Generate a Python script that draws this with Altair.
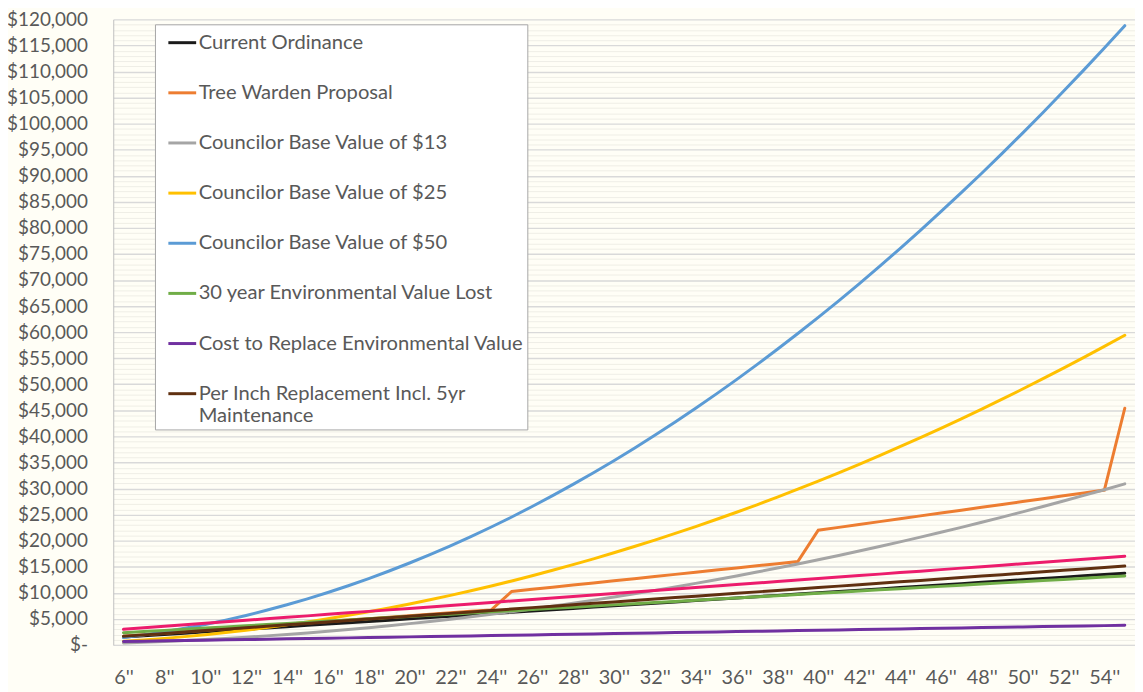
import altair as alt
import pandas as pd

diameters = [f"{d}''" for d in range(6, 56)]
even_labels = [f"{d}''" for d in range(6, 56, 2)]

series_names = [
    "Current Ordinance",
    "Tree Warden Proposal",
    "Councilor Base Value of $13",
    "Councilor Base Value of $25",
    "Councilor Base Value of $50",
    "30 year Environmental Value Lost",
    "Cost to Replace Environmental Value",
    "Per Inch Replacement Incl. 5yr Maintenance",
]
series_colors = ["#1a1a1a", "#ED7D31", "#A5A5A5", "#FFC000", "#5B9BD5",
                 "#70AD47", "#7030A0", "#603010"]
extra_color = "#EC1C6C"

current = [1500, 1750, 2000, 2250, 2500, 2750, 3000, 3250, 3500, 3750,
           4000, 4250, 4500, 4750, 5000, 5250, 5500, 5750, 6000, 6250,
           6500, 6750, 7000, 7250, 7500, 7750, 8000, 8250, 8500, 8750,
           9000, 9250, 9500, 9750, 10000, 10250, 10500, 10750, 11000, 11250,
           11500, 11750, 12000, 12250, 12500, 12750, 13000, 13250, 13500, 13750]
warden = [1680, 1960, 2240, 2520, 2800, 3080, 3360, 3640, 3920, 4200,
          4480, 4760, 5040, 5320, 5600, 5880, 6160, 6440, 6720,
          10250, 10660, 11070, 11480, 11890, 12300, 12710, 13120, 13530, 13940,
          14350, 14760, 15170, 15580, 15990,
          22000, 22550, 23100, 23650, 24200, 24750, 25300, 25850, 26400, 26950,
          27500, 28050, 28600, 29150, 29700,
          45400]
base13 = [370, 500, 650, 830, 1020, 1240, 1470, 1730, 2000, 2300,
          2610, 2950, 3310, 3690, 4080, 4500, 4940, 5400, 5880, 6380,
          6900, 7440, 8010, 8590, 9190, 9810, 10460, 11120, 11800, 12510,
          13230, 13980, 14740, 15530, 16340, 17160, 18010, 18880, 19770, 20680,
          21600, 22550, 23520, 24510, 25530, 26560, 27610, 28680, 29770, 30890]
base25 = [705, 960, 1255, 1590, 1965, 2375, 2825, 3320, 3850, 4420,
          5025, 5675, 6360, 7090, 7855, 8660, 9505, 10385, 11310, 12270,
          13275, 14315, 15395, 16515, 17670, 18870, 20105, 21385, 22700, 24055,
          25445, 26880, 28355, 29865, 31415, 33005, 34635, 36305, 38015, 39760,
          41550, 43375, 45240, 47145, 49085, 51070, 53095, 55155, 57255, 59395]
base50 = [1410, 1920, 2510, 3180, 3930, 4750, 5650, 6640, 7700, 8840,
          10050, 11350, 12720, 14180, 15710, 17320, 19010, 20770, 22620, 24540,
          26550, 28630, 30790, 33030, 35340, 37740, 40210, 42770, 45400, 48110,
          50890, 53760, 56710, 59730, 62830, 66010, 69270, 72610, 76030, 79520,
          83100, 86750, 90480, 94290, 98170, 102140, 106190, 110310, 114510, 118790]
env_lost = [2350, 2570, 2790, 3020, 3240, 3460, 3680, 3900, 4130, 4350,
            4570, 4790, 5010, 5240, 5460, 5680, 5900, 6120, 6350, 6570,
            6790, 7010, 7230, 7460, 7680, 7900, 8120, 8340, 8570, 8790,
            9010, 9230, 9450, 9680, 9900, 10120, 10340, 10560, 10790, 11010,
            11230, 11450, 11670, 11900, 12120, 12340, 12560, 12780, 13010, 13230]
env_replace = [650, 710, 780, 840, 900, 970, 1030, 1090, 1160, 1220,
               1290, 1350, 1410, 1480, 1540, 1600, 1670, 1730, 1790, 1860,
               1920, 1980, 2050, 2110, 2170, 2240, 2300, 2360, 2430, 2490,
               2560, 2620, 2680, 2750, 2810, 2870, 2940, 3000, 3060, 3130,
               3190, 3250, 3320, 3380, 3440, 3510, 3570, 3630, 3700, 3760]
per_inch = [1650, 1925, 2200, 2475, 2750, 3025, 3300, 3575, 3850, 4125,
            4400, 4675, 4950, 5225, 5500, 5775, 6050, 6325, 6600, 6875,
            7150, 7425, 7700, 7975, 8250, 8525, 8800, 9075, 9350, 9625,
            9900, 10175, 10450, 10725, 11000, 11275, 11550, 11825, 12100, 12375,
            12650, 12925, 13200, 13475, 13750, 14025, 14300, 14575, 14850, 15125]
unlabeled = [3000, 3290, 3570, 3860, 4140, 4430, 4720, 5000, 5290, 5570,
             5860, 6150, 6430, 6720, 7000, 7290, 7580, 7860, 8150, 8430,
             8720, 9010, 9290, 9580, 9860, 10150, 10440, 10720, 11010, 11290,
             11580, 11870, 12150, 12440, 12720, 13010, 13300, 13580, 13870, 14150,
             14440, 14730, 15010, 15300, 15580, 15870, 16160, 16440, 16730, 17010]

all_values = [current, warden, base13, base25, base50, env_lost, env_replace, per_inch]
y_ticks = list(range(0, 120001, 1000))

FONT = "Lato"
TEXT = "#595959"

x_enc = alt.X("diameter:N", sort=diameters,
              scale=alt.Scale(type="point", padding=0.5, domain=diameters),
              axis=alt.Axis(title=None, values=even_labels, labelAngle=0,
                            labelFontSize=20, labelColor=TEXT, labelFont=FONT,
                            labelPadding=23, ticks=False, domain=True,
                            domainColor="#d9d9d9", grid=False))
y_enc = alt.Y("value:Q",
              scale=alt.Scale(domain=[0, 120000], nice=False),
              axis=alt.Axis(title=None, values=y_ticks, labelOverlap=False,
                            labelBound=False,
                            labelExpr="datum.value % 5000 === 0 ? (datum.value === 0 ? '$-\u00a0\u00a0' : '$' + format(datum.value, ',')) : ''",
                            labelFontSize=19, labelColor=TEXT, labelFont=FONT,
                            labelPadding=26, ticks=False, domain=True,
                            domainColor="#bfbfbf", grid=True,
                            gridColor={"condition": {"test": "datum.value % 5000 === 0", "value": "#d9d9d9"},
                                       "value": "#efeee6"},
                            gridWidth={"condition": {"test": "datum.value % 5000 === 0", "value": 1.4},
                                       "value": 1}))

legend = alt.Legend(title=None, orient="none", legendX=42, legendY=5,
                    symbolType="stroke", symbolSize=784, symbolStrokeWidth=3,
                    symbolOffset=9,
                    labelFont=FONT, labelFontSize=20.3, labelColor=TEXT,
                    labelLimit=500, rowPadding=24.5, padding=3,
                    gridAlign="none",
                    fillColor="white", strokeColor="#a6a6a6",
                    labelOffset=1,
                    labelExpr="datum.label === 'Per Inch Replacement Incl. 5yr Maintenance' ? ['Per Inch Replacement Incl. 5yr', 'Maintenance'] : datum.label")
color_enc = alt.Color("series:N", sort=series_names,
                      scale=alt.Scale(domain=series_names, range=series_colors),
                      legend=legend)

layers = []
for name, vals in zip(series_names, all_values):
    df = pd.DataFrame({"diameter": diameters, "value": vals, "series": name})
    layers.append(
        alt.Chart(df).mark_line(strokeWidth=3, strokeCap="round")
        .encode(x=x_enc, y=y_enc, color=color_enc)
    )
df_extra = pd.DataFrame({"diameter": diameters, "value": unlabeled})
layers.append(
    alt.Chart(df_extra).mark_line(strokeWidth=3, strokeCap="round", color=extra_color)
    .encode(x=x_enc, y=y_enc)
)

chart = alt.layer(*layers).properties(
    width=1029, height=630,
    autosize=alt.AutoSizeParams(type="none"),
    padding={"left": 106, "top": 9, "right": 0, "bottom": 45},
    background="#FFFEF6",
).configure_view(stroke=None)

chart.save("out.html", embed_options={"renderer": "svg", "actions": False})
